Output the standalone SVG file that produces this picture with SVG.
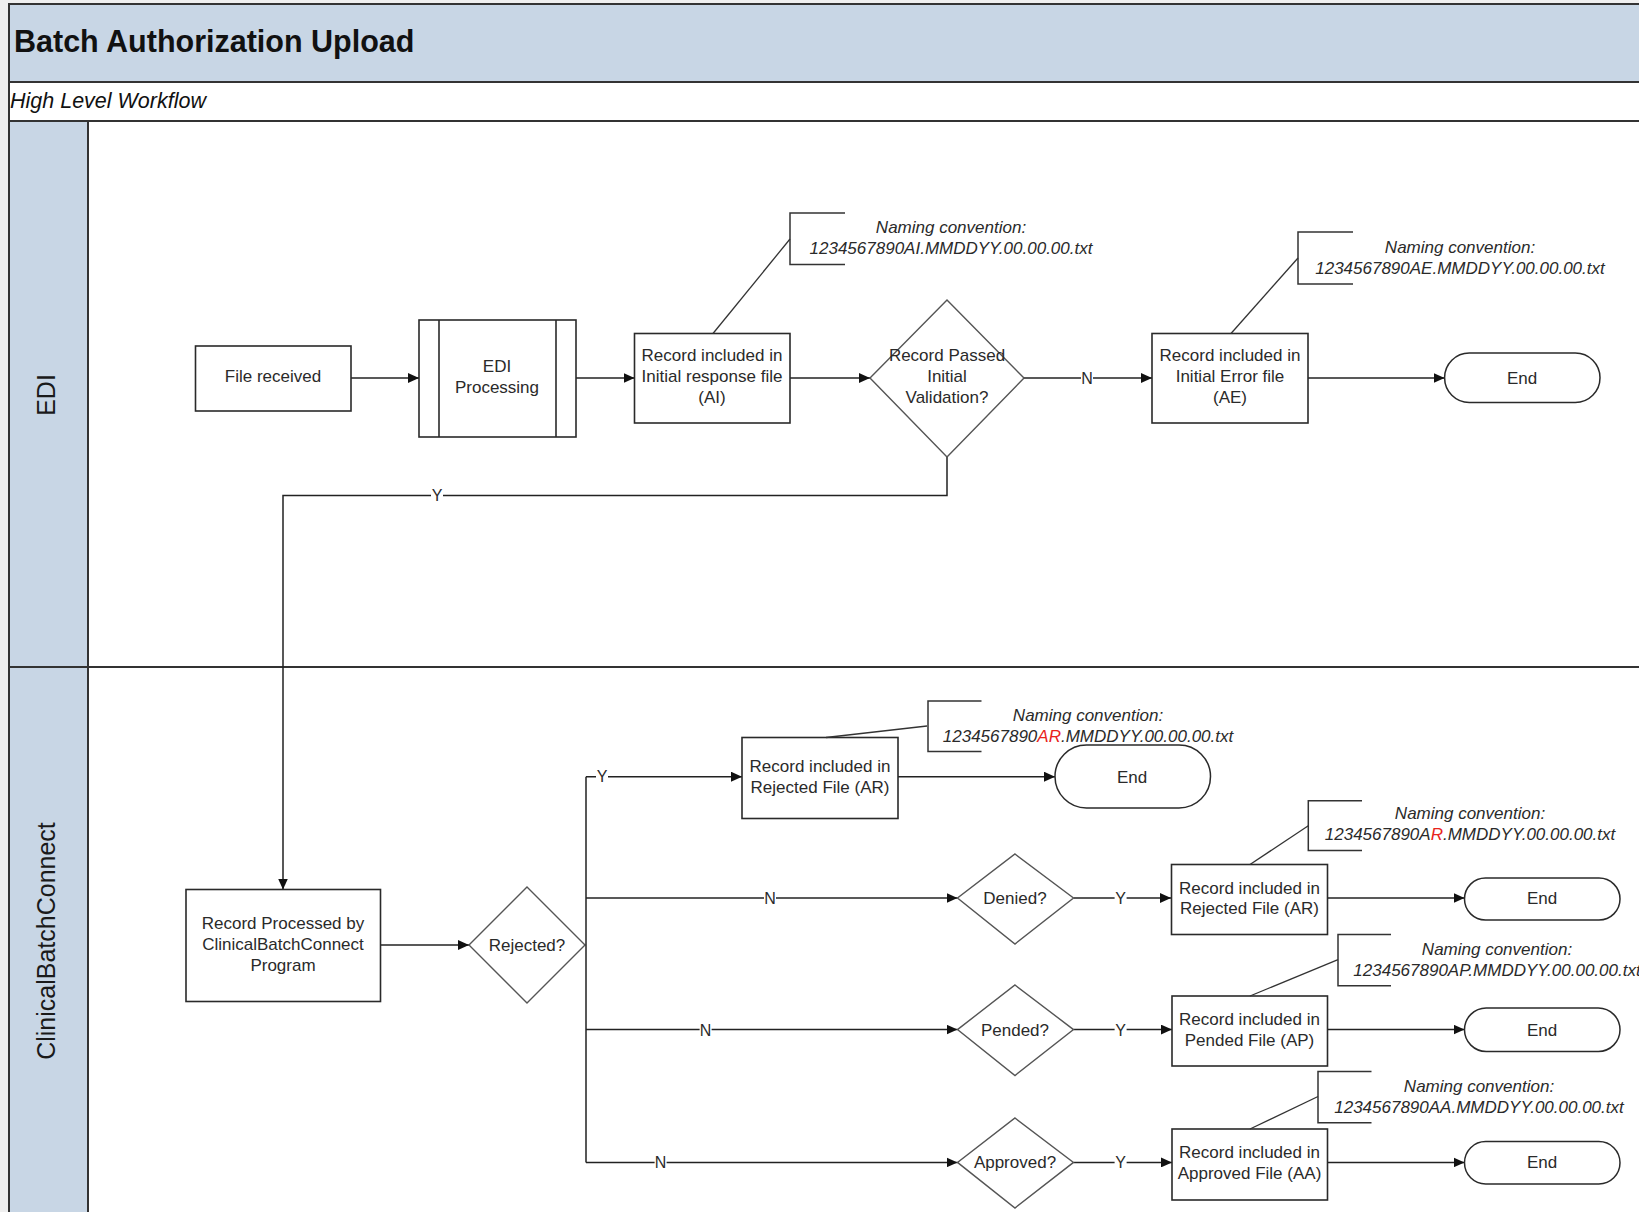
<svg xmlns="http://www.w3.org/2000/svg" width="1639" height="1212" viewBox="0 0 1639 1212">
<defs>
<marker id="arr" markerUnits="userSpaceOnUse" markerWidth="12" markerHeight="10" refX="11" refY="5" orient="auto">
<path d="M0,0 L11,5 L0,10 z" fill="#111"/>
</marker>
<style>
.box{fill:#fff;stroke:#2a2a2a;stroke-width:1.6}
.dia{fill:#fff;stroke:#555;stroke-width:1.4}
.end{fill:#fff;stroke:#2a2a2a;stroke-width:1.5}
.t{font-family:"Liberation Sans",Arial,sans-serif;font-size:17px;fill:#2a2a2a;text-anchor:middle}
.note{font-family:"Liberation Sans",Arial,sans-serif;font-size:17px;font-style:italic;fill:#2a2a2a;text-anchor:middle}
.lbl{font-family:"Liberation Sans",Arial,sans-serif;font-size:16px;fill:#2a2a2a;text-anchor:middle}
.lane{font-family:"Liberation Sans",Arial,sans-serif;font-size:25px;fill:#1a1a1a;text-anchor:middle}
.c{fill:none;stroke:#222;stroke-width:1.5}
.ca{fill:none;stroke:#222;stroke-width:1.5;marker-end:url(#arr)}
.lead{fill:none;stroke:#333;stroke-width:1.3}
.brk{fill:none;stroke:#333;stroke-width:1.5}
.red{fill:#e8231c}
.lb{fill:#fff}
</style>
</defs>
<rect x="0" y="0" width="1639" height="1212" fill="#efefef"/>
<g id="frame">
<rect x="9" y="4" width="1640" height="1220" fill="#fff" stroke="#333" stroke-width="2"/>
<rect x="9" y="4" width="1640" height="78" fill="#c8d6e5" stroke="#333" stroke-width="2"/>
<line x1="9" y1="121" x2="1639" y2="121" stroke="#333" stroke-width="2"/>
<rect x="9" y="121" width="79" height="1100" fill="#c8d6e5" stroke="#333" stroke-width="2"/>
<line x1="9" y1="667" x2="1639" y2="667" stroke="#333" stroke-width="2"/>
<text x="14" y="52" font-family="Liberation Sans, Arial, sans-serif" font-size="30.5" font-weight="bold" fill="#111">Batch Authorization Upload</text>
<text x="10" y="108" font-family="Liberation Sans, Arial, sans-serif" font-size="21.5" font-style="italic" fill="#111">High Level Workflow</text>
<text class="lane" transform="translate(55,395) rotate(-90)">EDI</text>
<text class="lane" transform="translate(55,941) rotate(-90)">ClinicalBatchConnect</text>
</g>
<g id="connectors">
<path class="ca" d="M351,378 H419"/>
<path class="ca" d="M576,378 H634.5"/>
<path class="ca" d="M790,378 H870"/>
<path class="ca" d="M1024,378 H1152"/>
<path class="ca" d="M1308,378 H1444.6"/>
<path class="ca" d="M947,457 V495.5 H283 V889.5"/>
<path class="ca" d="M380.5,945 H469"/>
<path class="c" d="M585,945 H586 M586,776.7 V1162.4"/>
<path class="ca" d="M586,776.7 H742"/>
<path class="ca" d="M586,898 H957.5"/>
<path class="ca" d="M586,1029.6 H957.5"/>
<path class="ca" d="M586,1162.4 H957.5"/>
<path class="ca" d="M898,776.7 H1055"/>
<path class="ca" d="M1073.5,898 H1171"/>
<path class="ca" d="M1327.5,898 H1464.5"/>
<path class="ca" d="M1073.5,1029.6 H1172"/>
<path class="ca" d="M1327.5,1029.6 H1464.5"/>
<path class="ca" d="M1073.5,1162.4 H1172"/>
<path class="ca" d="M1327.5,1162.4 H1464.5"/>
<rect class="lb" x="1081" y="369" width="12" height="18"/><text class="lbl" x="1087" y="384">N</text>
<rect class="lb" x="431" y="486" width="12" height="18"/><text class="lbl" x="437" y="501">Y</text>
<rect class="lb" x="596" y="768" width="12" height="18"/><text class="lbl" x="602" y="782">Y</text>
<rect class="lb" x="764" y="889" width="12" height="18"/><text class="lbl" x="770" y="904">N</text>
<rect class="lb" x="699.6" y="1021" width="12" height="18"/><text class="lbl" x="705.6" y="1035.5">N</text>
<rect class="lb" x="654.6" y="1153" width="12" height="18"/><text class="lbl" x="660.6" y="1168">N</text>
<rect class="lb" x="1114.6" y="889" width="12" height="18"/><text class="lbl" x="1120.6" y="904">Y</text>
<rect class="lb" x="1114.6" y="1021" width="12" height="18"/><text class="lbl" x="1120.6" y="1035.5">Y</text>
<rect class="lb" x="1114.6" y="1153" width="12" height="18"/><text class="lbl" x="1120.6" y="1168">Y</text>
</g>
<g id="n-file-received">
<rect class="box" x="195.5" y="346" width="155.5" height="65"/>
<text class="t" x="273" y="382">File received</text>
</g>
<g id="n-edi-processing">
<rect class="box" x="419" y="320" width="157" height="117"/>
<line x1="439" y1="320" x2="439" y2="437" stroke="#2a2a2a" stroke-width="1.6"/>
<line x1="556" y1="320" x2="556" y2="437" stroke="#2a2a2a" stroke-width="1.6"/>
<text class="t" x="497" y="372">EDI</text>
<text class="t" x="497" y="393">Processing</text>
</g>
<g id="n-ai">
<rect class="box" x="634.5" y="333.5" width="155.5" height="89.5"/>
<text class="t" x="712" y="361">Record included in</text>
<text class="t" x="712" y="382">Initial response file</text>
<text class="t" x="712" y="403">(AI)</text>
</g>
<g id="note-ai">
<path class="brk" d="M845,213 H790 V264.5 H845"/>
<path class="lead" d="M790,239 L713,333.5"/>
<text class="note" x="951" y="233">Naming convention:</text>
<text class="note" x="951" y="254">1234567890AI.MMDDYY.00.00.00.txt</text>
</g>
<g id="n-passed">
<polygon class="dia" points="947,300 1024,378 947,457 870,378"/>
<text class="t" x="947" y="361">Record Passed</text>
<text class="t" x="947" y="382">Initial</text>
<text class="t" x="947" y="403">Validation?</text>
</g>
<g id="n-ae">
<rect class="box" x="1152" y="333.5" width="156" height="89.5"/>
<text class="t" x="1230" y="361">Record included in</text>
<text class="t" x="1230" y="382">Initial Error file</text>
<text class="t" x="1230" y="403">(AE)</text>
</g>
<g id="note-ae">
<path class="brk" d="M1353,232 H1298 V284 H1353"/>
<path class="lead" d="M1298,258 L1231,333.5"/>
<text class="note" x="1460" y="253">Naming convention:</text>
<text class="note" x="1460" y="274">1234567890AE.MMDDYY.00.00.00.txt</text>
</g>
<g id="n-end1">
<rect class="end" x="1444.6" y="353" width="155.4" height="49.5" rx="24.7"/>
<text class="t" x="1522" y="384">End</text>
</g>
<g id="n-processed">
<rect class="box" x="186" y="889.5" width="194.5" height="112"/>
<text class="t" x="283" y="929">Record Processed by</text>
<text class="t" x="283" y="950">ClinicalBatchConnect</text>
<text class="t" x="283" y="971">Program</text>
</g>
<g id="n-rejected">
<polygon class="dia" points="527,887 585,945 527,1003 469,945"/>
<text class="t" x="527" y="951">Rejected?</text>
</g>
<g id="n-ar1">
<rect class="box" x="742" y="737.5" width="156" height="81"/>
<text class="t" x="820" y="772">Record included in</text>
<text class="t" x="820" y="793">Rejected File (AR)</text>
</g>
<g id="note-ar1">
<path class="brk" d="M981.5,701 H928 V751.6 H981.5"/>
<path class="lead" d="M927,726 L826,737.5"/>
<text class="note" x="1088" y="721">Naming convention:</text>
<text class="note" x="1088" y="742">1234567890<tspan class="red">AR</tspan>.MMDDYY.00.00.00.txt</text>
</g>
<g id="n-end2">
<rect class="end" x="1055" y="745" width="155.5" height="63" rx="31.5"/>
<text class="t" x="1132" y="783">End</text>
</g>
<g id="n-denied">
<polygon class="dia" points="1015,854 1073.5,898 1015,944 957.5,898"/>
<text class="t" x="1015" y="904">Denied?</text>
</g>
<g id="n-ar2">
<rect class="box" x="1171.5" y="864.5" width="156" height="70"/>
<text class="t" x="1249.5" y="893.5">Record included in</text>
<text class="t" x="1249.5" y="914">Rejected File (AR)</text>
</g>
<g id="note-ar2">
<path class="brk" d="M1362,800.7 H1308.3 V850.5 H1362"/>
<path class="lead" d="M1308.3,825.7 L1250,864.5"/>
<text class="note" x="1470" y="819">Naming convention:</text>
<text class="note" x="1470" y="840">1234567890A<tspan class="red">R</tspan>.MMDDYY.00.00.00.txt</text>
</g>
<g id="n-end3">
<rect class="end" x="1464.5" y="878" width="155.5" height="42" rx="21"/>
<text class="t" x="1542" y="904">End</text>
</g>
<g id="n-pended">
<polygon class="dia" points="1015,985 1073.5,1029.6 1015,1075.5 957.5,1029.6"/>
<text class="t" x="1015" y="1035.5">Pended?</text>
</g>
<g id="n-ap">
<rect class="box" x="1172" y="996" width="155.5" height="70"/>
<text class="t" x="1249.5" y="1025">Record included in</text>
<text class="t" x="1249.5" y="1046">Pended File (AP)</text>
</g>
<g id="note-ap">
<path class="brk" d="M1391,934.5 H1338 V985.7 H1391"/>
<path class="lead" d="M1338,959.6 L1250,996"/>
<text class="note" x="1497" y="955">Naming convention:</text>
<text class="note" x="1497" y="976">1234567890AP.MMDDYY.00.00.00.txt</text>
</g>
<g id="n-end4">
<rect class="end" x="1464.5" y="1008" width="155.5" height="43.5" rx="21.7"/>
<text class="t" x="1542" y="1035.5">End</text>
</g>
<g id="n-approved">
<polygon class="dia" points="1015,1118 1073.5,1162.4 1015,1208 957.5,1162.4"/>
<text class="t" x="1015" y="1168">Approved?</text>
</g>
<g id="n-aa">
<rect class="box" x="1172" y="1129" width="155.5" height="71"/>
<text class="t" x="1249.5" y="1158">Record included in</text>
<text class="t" x="1249.5" y="1179">Approved File (AA)</text>
</g>
<g id="note-aa">
<path class="brk" d="M1371.5,1071.5 H1318 V1122.7 H1371.5"/>
<path class="lead" d="M1318,1096.5 L1250,1129"/>
<text class="note" x="1479" y="1092">Naming convention:</text>
<text class="note" x="1479" y="1113">1234567890AA.MMDDYY.00.00.00.txt</text>
</g>
<g id="n-end5">
<rect class="end" x="1464.5" y="1141.5" width="155.5" height="42.5" rx="21.2"/>
<text class="t" x="1542" y="1168">End</text>
</g>
</svg>
